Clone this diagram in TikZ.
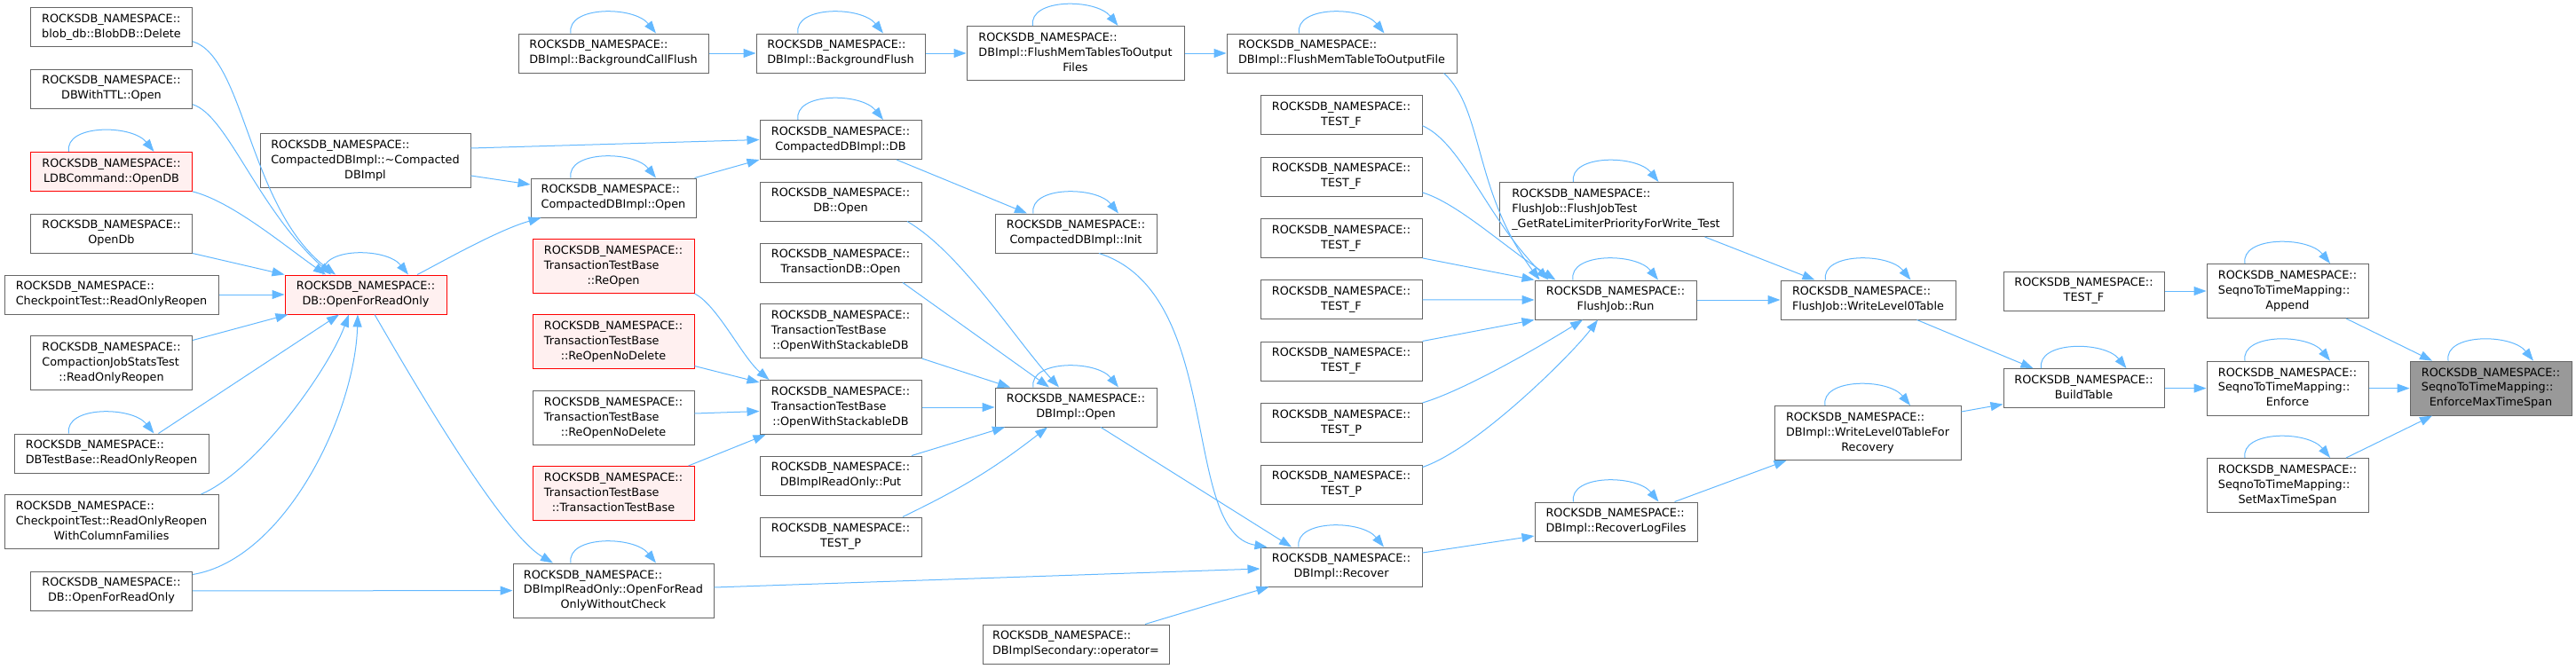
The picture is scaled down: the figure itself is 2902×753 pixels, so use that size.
\documentclass[tikz,border=0pt]{standalone}
\usepackage{fontspec}
\setmainfont{DejaVu Sans}
\usepackage{xcolor}
\usepackage{tikz}
\usetikzlibrary{arrows.meta, positioning, calc}

\definecolor{edgeblue}{HTML}{63B8FF}
\definecolor{boxgray}{HTML}{666666}
\definecolor{cutfill}{HTML}{FFF0F0}
\definecolor{focusfill}{HTML}{999999}

\newcommand{\ns}{ROCKSDB\_NAMESPACE::}
\newcommand{\fname}[2]{\begin{tabular}{@{}l@{}}#1\\\multicolumn{1}{@{}c@{}}{#2}\end{tabular}}
\newcommand{\selfloop}[1]{\draw[edge] ([xshift=-48pt]#1.north) .. controls +(-5,31) and +(-25,31) .. ([xshift=48pt]#1.north);}

\begin{document}
\begin{tikzpicture}[
  x=1pt, y=1pt,
  fn/.style={draw=boxgray, fill=white, line width=1pt, inner xsep=6pt, inner ysep=0pt, minimum width=182pt, minimum height=44pt, font=\fontsize{12.8}{16.8}\selectfont},
  tall/.style={minimum height=61pt},
  cut/.style={draw=red, fill=cutfill},
  focus/.style={fill=focusfill},
  edge/.style={-{Triangle[length=14pt, width=10pt]}, edgeblue, line width=1pt}
]
\useasboundingbox (0,0) rectangle (2902,-753);

% callers of DB::OpenForReadOnly
\node[fn] (blobdel) at (125.5,-30.7) {\fname{\ns}{blob\_db::BlobDB::Delete}};
\node[fn] (ttl) at (125.5,-100) {\fname{\ns}{DBWithTTL::Open}};
\node[fn, cut] (ldb) at (125.5,-193.4) {\fname{\ns}{LDBCommand::OpenDB}};
\node[fn] (opendb) at (125.5,-263) {\fname{\ns}{OpenDb}};
\node[fn, minimum width=241pt] (ckro) at (125.5,-332) {\fname{\ns}{CheckpointTest::ReadOnlyReopen}};
\node[fn, tall] (cjst) at (125.5,-409) {\fname{\ns\\CompactionJobStatsTest}{::ReadOnlyReopen}};
\node[fn, minimum width=219pt] (dbtb) at (125.5,-511) {\fname{\ns}{DBTestBase::ReadOnlyReopen}};
\node[fn, tall, minimum width=241pt] (ckrocf) at (125.5,-588) {\fname{\ns\\CheckpointTest::ReadOnlyReopen}{WithColumnFamilies}};
\node[fn] (dbofro) at (125.5,-666) {\fname{\ns}{DB::OpenForReadOnly}};

\node[fn, tall, minimum width=237pt] (compdtor) at (411.5,-181) {\fname{\ns\\CompactedDBImpl::\textasciitilde Compacted}{DBImpl}};
\node[fn, cut] (dbofrored) at (412,-332) {\fname{\ns}{DB::OpenForReadOnly}};

% third column
\node[fn, minimum width=214pt] (bgcall) at (691,-60) {\fname{\ns}{DBImpl::BackgroundCallFlush}};
\node[fn, minimum width=186pt] (cdbopen) at (691,-223) {\fname{\ns}{CompactedDBImpl::Open}};
\node[fn, tall, cut] (ttbreopen) at (691,-300) {\fname{\ns\\TransactionTestBase}{::ReOpen}};
\node[fn, tall, cut] (ttbreopennd) at (691,-385) {\fname{\ns\\TransactionTestBase}{::ReOpenNoDelete}};
\node[fn, tall] (ttbreopenndb) at (691,-471) {\fname{\ns\\TransactionTestBase}{::ReOpenNoDelete}};
\node[fn, tall, cut] (ttbctor) at (691,-556) {\fname{\ns\\TransactionTestBase}{::TransactionTestBase}};
\node[fn, tall, minimum width=226pt] (rocheck) at (691,-665.5) {\fname{\ns\\DBImplReadOnly::OpenForRead}{OnlyWithoutCheck}};

% fourth column
\node[fn, minimum width=190pt] (bgflush) at (947,-60) {\fname{\ns}{DBImpl::BackgroundFlush}};
\node[fn] (cdbdb) at (947,-157.5) {\fname{\ns}{CompactedDBImpl::DB}};
\node[fn] (dbopen) at (947,-227) {\fname{\ns}{DB::Open}};
\node[fn] (tdbopen) at (947,-296) {\fname{\ns}{TransactionDB::Open}};
\node[fn, tall] (owsdba) at (947,-373) {\fname{\ns\\TransactionTestBase}{::OpenWithStackableDB}};
\node[fn, tall] (owsdbb) at (947,-459) {\fname{\ns\\TransactionTestBase}{::OpenWithStackableDB}};
\node[fn] (roput) at (947,-536) {\fname{\ns}{DBImplReadOnly::Put}};
\node[fn] (testpa) at (947,-605) {\fname{\ns}{TEST\_P}};

% fifth column
\node[fn, tall, minimum width=245pt] (fmtof) at (1211.5,-60) {\fname{\ns\\DBImpl::FlushMemTablesToOutput}{Files}};
\node[fn] (cdbinit) at (1212,-263) {\fname{\ns}{CompactedDBImpl::Init}};
\node[fn] (dbimplopen) at (1212,-459) {\fname{\ns}{DBImpl::Open}};
\node[fn, minimum width=210pt] (secop) at (1212,-726) {\fname{\ns}{DBImplSecondary::operator=}};

% sixth column
\node[fn, minimum width=259pt] (fmtofa) at (1511.5,-60) {\fname{\ns}{DBImpl::FlushMemTableToOutputFile}};
\node[fn] (testfa) at (1511,-129.7) {\fname{\ns}{TEST\_F}};
\node[fn] (testfb) at (1511,-199) {\fname{\ns}{TEST\_F}};
\node[fn] (testfc) at (1511,-268.4) {\fname{\ns}{TEST\_F}};
\node[fn] (testfd) at (1511,-337.9) {\fname{\ns}{TEST\_F}};
\node[fn] (testfe) at (1511,-407) {\fname{\ns}{TEST\_F}};
\node[fn] (testpb) at (1511,-476.5) {\fname{\ns}{TEST\_P}};
\node[fn] (testpc) at (1511,-546) {\fname{\ns}{TEST\_P}};
\node[fn] (recover) at (1511,-639) {\fname{\ns}{DBImpl::Recover}};

% flush job
\node[fn, tall, minimum width=263pt] (fjtest) at (1820.5,-236) {\fname{\ns\\FlushJob::FlushJobTest}{\_GetRateLimiterPriorityForWrite\_Test}};
\node[fn] (fjrun) at (1820,-338) {\fname{\ns}{FlushJob::Run}};
\node[fn, minimum width=183pt] (rlf) at (1820.5,-588) {\fname{\ns}{DBImpl::RecoverLogFiles}};
\node[fn, minimum width=197pt] (wlz) at (2104.5,-338) {\fname{\ns}{FlushJob::WriteLevel0Table}};
\node[fn, tall, minimum width=210pt] (wlzr) at (2104,-488) {\fname{\ns\\DBImpl::WriteLevel0TableFor}{Recovery}};

% seqno to time mapping
\node[fn, minimum width=181pt] (testfr) at (2347.5,-328) {\fname{\ns}{TEST\_F}};
\node[fn, minimum width=181pt] (build) at (2347.5,-437.6) {\fname{\ns}{BuildTable}};
\node[fn, tall] (append) at (2577,-328) {\fname{\ns\\SeqnoToTimeMapping::}{Append}};
\node[fn, tall] (enforce) at (2577,-437.6) {\fname{\ns\\SeqnoToTimeMapping::}{Enforce}};
\node[fn, tall] (setmax) at (2577,-547) {\fname{\ns\\SeqnoToTimeMapping::}{SetMaxTimeSpan}};
\node[fn, tall, focus] (target) at (2806,-437.6) {\fname{\ns\\SeqnoToTimeMapping::}{EnforceMaxTimeSpan}};

% edges into DB::OpenForReadOnly
\draw[edge] ([yshift=-16pt]blobdel.east) .. controls +(59,-18) and +(-98,75) .. ([xshift=-34pt]dbofrored.north);
\draw[edge] ([yshift=-17.7pt]ttl.east) .. controls +(39,-12) and +(-83,74) .. ([xshift=-39pt]dbofrored.north);
\draw[edge] (ldb.south east) .. controls +(44,-11) and +(-47,33) .. ([xshift=-45pt]dbofrored.north);
\draw[edge] (opendb.south east) -- (dbofrored.north west);
\draw[edge] (ckro) -- (dbofrored);
\draw[edge] ([yshift=-5.5pt]cjst.north east) -- ([xshift=4pt]dbofrored.south west);
\draw[edge] ([xshift=53pt]dbtb.north) -- ([xshift=-30pt]dbofrored.south);
\draw[edge] ([xshift=101pt]ckrocf.north) .. controls +(63,27) and +(-23,-62) .. ([xshift=-19pt]dbofrored.south);
\draw[edge] ([yshift=-4pt]dbofro.north east) .. controls +(104,17) and +(-3,-112) .. ([xshift=-9pt]dbofrored.south);
\draw[edge] ([xshift=58pt]dbofrored.north) .. controls +(20,10) and +(-50,-14) .. ([xshift=12pt]cdbopen.south west);
\draw[edge] ([xshift=10pt]dbofrored.south) .. controls +(35,-60) and +(-60,35) .. ([xshift=-68pt]rocheck.north);
\draw[edge] (dbofro) -- (rocheck);

% compacted db
\draw[edge] ([yshift=14pt]compdtor.east) -- (cdbdb.west);
\draw[edge] ([yshift=-17pt]compdtor.east) -- ([yshift=15pt]cdbopen.west);
\draw[edge] ([xshift=-2pt]cdbopen.north east) -- (cdbdb.south west);
\draw[edge] ([xshift=63pt]cdbdb.south) -- ([xshift=-55pt]cdbinit.north);

% flush chain
\draw[edge] (bgcall) -- (bgflush);
\draw[edge] (bgflush) -- (fmtof);
\draw[edge] (fmtof) -- (fmtofa);
\draw[edge] ([xshift=115pt]fmtofa.south) .. controls +(45,-40) and +(-75,100) .. ([xshift=6pt]fjrun.north west);
\draw[edge] ([yshift=-12pt]testfa.east) .. controls +(45,-20) and +(-70,70) .. ([xshift=16pt]fjrun.north west);
\draw[edge] ([yshift=-18pt]testfb.east) .. controls +(40,-12) and +(-55,35) .. ([xshift=24pt]fjrun.north west);
\draw[edge] (testfc.south east) -- (fjrun.north west);
\draw[edge] (testfd) -- (fjrun);
\draw[edge] (testfe.north east) -- (fjrun.south west);
\draw[edge] (testpb.north east) .. controls +(50,15) and +(-40,-25) .. ([xshift=-37pt]fjrun.south);
\draw[edge] ([yshift=-3pt]testpc.north east) .. controls +(60,20) and +(-30,-40) .. ([xshift=-20pt]fjrun.south);
\draw[edge] (fjrun) -- (wlz);
\draw[edge] ([xshift=100pt]fjtest.south) -- ([xshift=-60pt]wlz.north);
\draw[edge] ([xshift=55pt]wlz.south) -- ([xshift=-57pt]build.north);
\draw[edge] ([yshift=-7pt]wlzr.north east) -- ([yshift=-18pt]build.west);

% recovery
\draw[edge] ([xshift=66pt]rlf.north) -- ([xshift=14pt]wlzr.south west);
\draw[edge] ([yshift=16pt]recover.east) -- ([yshift=-16pt]rlf.west);
\draw[edge] ([yshift=3.5pt]rocheck.east) -- ([yshift=-2pt]recover.west);
\draw[edge] ([xshift=78pt]secop.north) -- ([xshift=10pt]recover.south west);
\draw[edge] ([xshift=28pt]dbimplopen.south) -- ([xshift=-56pt]recover.north);
\draw[edge] ([xshift=26pt]cdbinit.south) .. controls +(142,-45) and +(-98,16) .. ([xshift=8pt]recover.north west);

% DBImpl::Open
\draw[edge] ([xshift=75pt]dbopen.south) .. controls +(60,-35) and +(-50,55) .. ([xshift=-19pt]dbimplopen.north);
\draw[edge] ([xshift=70pt]tdbopen.south) -- ([xshift=-30pt]dbimplopen.north);
\draw[edge] (owsdba.south east) -- ([xshift=-74pt]dbimplopen.north);
\draw[edge] (owsdbb) -- (dbimplopen);
\draw[edge] ([xshift=80pt]roput.north) -- ([xshift=-80pt]dbimplopen.south);
\draw[edge] ([xshift=70pt]testpa.north) to[bend right=6] ([xshift=-32pt]dbimplopen.south);
\draw[edge] (ttbreopen.south east) .. controls +(25,-12) and +(-30,25) .. ([xshift=11pt]owsdbb.north west);
\draw[edge] ([yshift=3.5pt]ttbreopennd.south east) -- ([yshift=-3pt]owsdbb.north west);
\draw[edge] ([yshift=5pt]ttbreopenndb.east) -- ([yshift=-4.5pt]owsdbb.west);
\draw[edge] ([xshift=-7pt]ttbctor.north east) -- ([xshift=7pt]owsdbb.south west);

% into the focus node
\draw[edge] (testfr) -- (append);
\draw[edge] (build) -- (enforce);
\draw[edge] ([xshift=66pt]append.south) -- ([xshift=-66pt]target.north);
\draw[edge] (enforce) -- (target);
\draw[edge] ([xshift=66pt]setmax.north) -- ([xshift=-66pt]target.south);

% recursive calls
\selfloop{ldb}
\selfloop{dbofrored}
\selfloop{dbtb}
\selfloop{bgcall}
\selfloop{bgflush}
\selfloop{cdbdb}
\selfloop{cdbopen}
\selfloop{rocheck}
\selfloop{fmtof}
\selfloop{fmtofa}
\selfloop{cdbinit}
\selfloop{dbimplopen}
\selfloop{recover}
\selfloop{fjtest}
\selfloop{fjrun}
\selfloop{rlf}
\selfloop{wlz}
\selfloop{wlzr}
\selfloop{build}
\selfloop{append}
\selfloop{enforce}
\selfloop{setmax}
\selfloop{target}
\end{tikzpicture}
\end{document}
